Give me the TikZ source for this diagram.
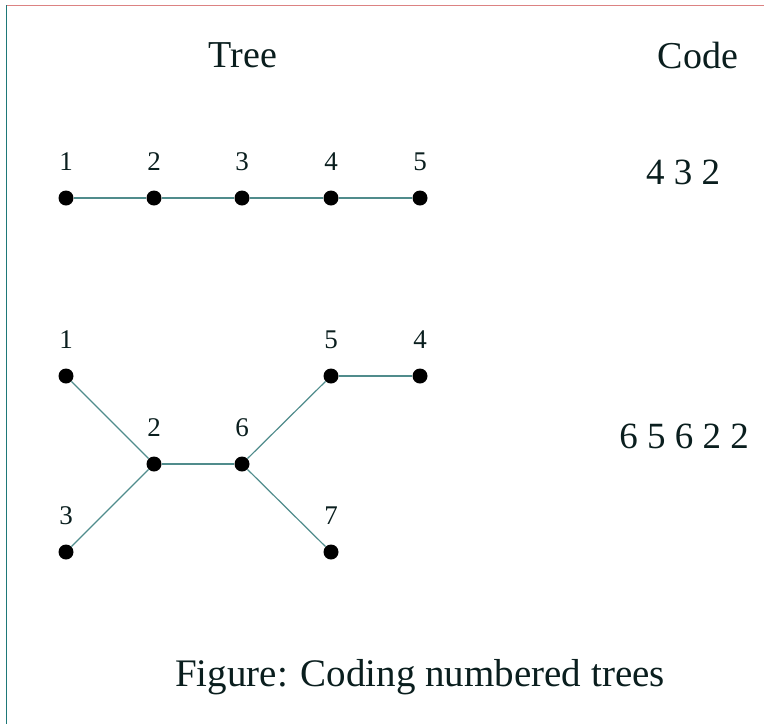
\documentclass[tikz,border=0pt]{standalone}
\usepackage{fontspec}
\setmainfont{Liberation Serif}
\definecolor{edgecol}{RGB}{80,140,140}
\definecolor{txtcol}{RGB}{10,30,30}
\definecolor{topcol}{RGB}{220,130,130}
\definecolor{leftcol}{RGB}{30,120,120}
\begin{document}
\begin{tikzpicture}[x=1pt,y=-1pt,
  vtx/.style={circle,fill=black,inner sep=0pt,minimum size=15pt},
  lbl/.style={text=txtcol,font=\fontsize{27}{31}\selectfont,inner sep=0pt},
  hdr/.style={text=txtcol,font=\fontsize{38}{44}\selectfont,inner sep=0pt},
  codetxt/.style={text=txtcol,font=\fontsize{37}{42}\selectfont,inner sep=0pt},
  edge/.style={draw=edgecol,line width=1.2pt}]
\useasboundingbox (0,0) rectangle (764,724);
\fill[white] (0,0) rectangle (764,724);
\draw[topcol,line width=1.2pt] (6,5.5) -- (764,5.5);
\draw[leftcol,line width=1.5pt] (6.5,5) -- (6.5,724);
% headers
\node[hdr] (htree) at (243,55) {Tree};
\node[hdr] (hcode) at (698,55) {Code};
% tree 1
\node[vtx] (a1) at (66,198) {};
\node[vtx] (a2) at (154,198) {};
\node[vtx] (a3) at (242,198) {};
\node[vtx] (a4) at (331,198) {};
\node[vtx] (a5) at (420,198) {};
\foreach \i in {1,...,5} {\node[lbl,anchor=base] (la\i) at ([yshift=28pt]a\i) {\i};}
\draw[edge] (a1) -- (a2) -- (a3) -- (a4) -- (a5);
\node[codetxt] (c1) at (683,172) {4 3 2};
% tree 2
\node[vtx] (b1) at (66,376) {};
\node[vtx] (b2) at (154,464) {};
\node[vtx] (b6) at (242,464) {};
\node[vtx] (b5) at (331,376) {};
\node[vtx] (b4) at (420,376) {};
\node[vtx] (b3) at (66,552) {};
\node[vtx] (b7) at (331,552) {};
\foreach \i in {1,...,7} {\node[lbl,anchor=base] (lb\i) at ([yshift=28pt]b\i) {\i};}
\draw[edge] (b1) -- (b2);
\draw[edge] (b3) -- (b2);
\draw[edge] (b2) -- (b6);
\draw[edge] (b6) -- (b5);
\draw[edge] (b5) -- (b4);
\draw[edge] (b6) -- (b7);
\node[codetxt] (c2) at (684,436) {6 5 6 2 2};
% caption
\node[hdr,font=\fontsize{39}{45}\selectfont] (cap) at (420,677) {Figure: Coding numbered trees};
\end{tikzpicture}
\end{document}
